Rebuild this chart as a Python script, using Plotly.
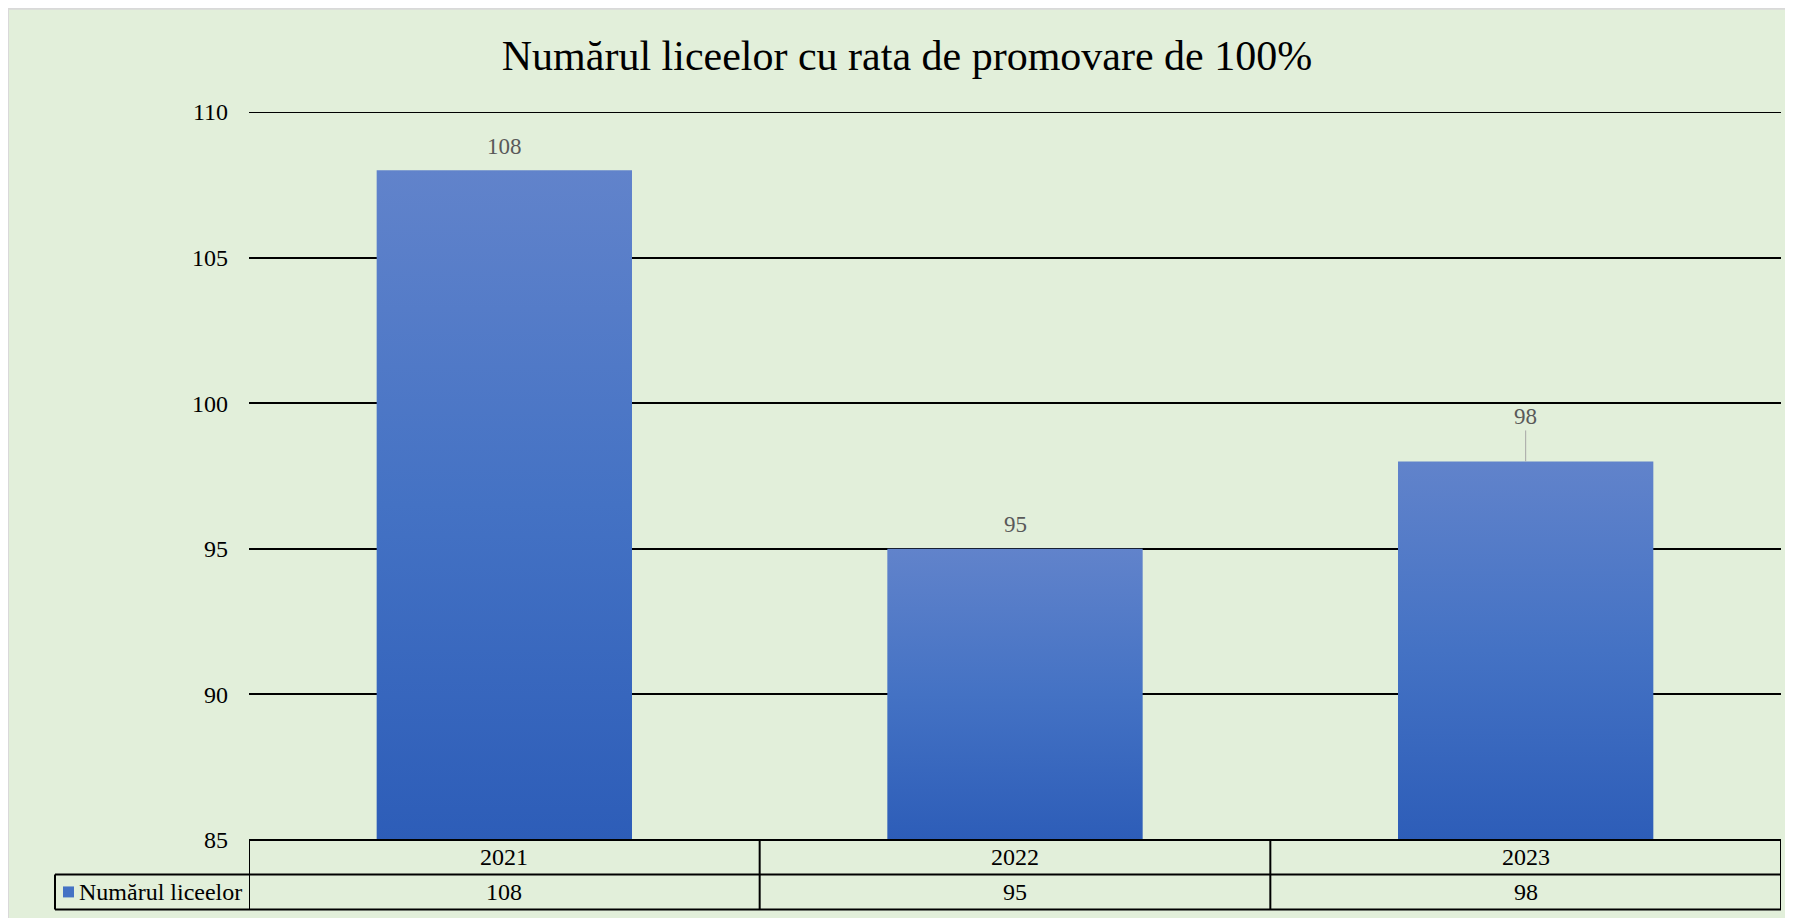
import plotly.graph_objects as go

# data
years = ["2021", "2022", "2023"]
licee = [108, 95, 98]
series_name = "Numărul liceelor"
title = "Numărul liceelor cu rata de promovare de 100%"
y_ticks = [85, 90, 95, 100, 105, 110]

# style
FONT = "Liberation Serif"
BG = "#E2EFDA"
BAR_SCALE = [[0, "#2D5DB8"], [0.5, "#4472C4"], [1, "#6183CB"]]
label_shift = [24, 24, 45]   # px above bar top (last one moved, with leader line)

W, H = 1793, 918
ML, MR, MT, MB = 241, 20, 103.5, 85.5
plot_h = H - MT - MB
plot_w = W - ML - MR


def py(p):
    # pixel row (from top of figure) -> paper y
    return (H - MB - p) / plot_h


def px(p):
    return (p - ML) / plot_w


y0 = y_ticks[0]
half = 0.25  # half bar width in category units
n = len(years)

fig = go.Figure()

# bars drawn as filled shapes so they can carry a vertical gradient
for i, v in enumerate(licee):
    fig.add_trace(go.Scatter(
        x=[i - half, i + half, i + half, i - half, i - half],
        y=[y0, y0, v, v, y0],
        mode="lines", line=dict(width=0),
        fill="toself",
        fillgradient=dict(type="vertical", colorscale=BAR_SCALE),
        hoverinfo="skip", showlegend=False,
    ))

# data labels
for i, v in enumerate(licee):
    if label_shift[i] > 30:
        fig.add_annotation(x=i, y=v, text=str(v), showarrow=True,
                           ax=0, ay=-label_shift[i], arrowhead=0,
                           arrowwidth=1, arrowcolor="#A6A6A6", standoff=0,
                           font=dict(family=FONT, size=23, color="#595959"))
    else:
        fig.add_annotation(x=i, y=v, text=str(v), showarrow=False,
                           yshift=label_shift[i], yanchor="middle",
                           font=dict(family=FONT, size=23, color="#595959"))

# thin grey frame round the chart
fig.add_shape(type="rect", xref="paper", yref="paper",
              x0=px(0), x1=px(W), y0=py(H), y1=py(0),
              line=dict(color="#D9D9D9", width=2), layer="below")

# top gridline sits on the plot edge, draw it explicitly
fig.add_shape(type="line", xref="paper", yref="y", x0=0, x1=1,
              y0=y_ticks[-1], y1=y_ticks[-1], line=dict(color="black", width=2))

# data table under the plot
row1_bot = py(867)
row2_bot = py(902)
left = px(47)
tbl = dict(color="black", width=2)
fig.add_shape(type="line", xref="x", yref="paper", x0=-0.5, x1=n - 0.5, y0=0, y1=0, line=tbl)
fig.add_shape(type="line", xref="paper", yref="paper", x0=left, x1=1, y0=row1_bot, y1=row1_bot, line=tbl)
fig.add_shape(type="line", xref="paper", yref="paper", x0=left, x1=1, y0=row2_bot, y1=row2_bot, line=tbl)
for k in range(n + 1):
    fig.add_shape(type="line", xref="x", yref="paper", x0=k - 0.5, x1=k - 0.5,
                  y0=0, y1=row2_bot, line=tbl)
fig.add_shape(type="line", xref="paper", yref="paper", x0=left, x1=left,
              y0=row1_bot, y1=row2_bot, line=tbl)

mid1 = row1_bot / 2
mid2 = (row1_bot + row2_bot) / 2
for i, (yr, v) in enumerate(zip(years, licee)):
    fig.add_annotation(x=i, y=mid1, yref="paper", yanchor="middle", text=yr,
                       showarrow=False, font=dict(family=FONT, size=24, color="black"))
    fig.add_annotation(x=i, y=mid2, yref="paper", yanchor="middle", text=str(v),
                       showarrow=False, font=dict(family=FONT, size=24, color="black"))

# legend key + series name in the table
fig.add_shape(type="rect", xref="paper", yref="paper",
              x0=px(55), x1=px(66), y0=py(890), y1=py(879),
              fillcolor="#4472C4", line=dict(width=0))
fig.add_annotation(x=px(69), y=mid2, xref="paper", yref="paper",
                   xanchor="left", yanchor="middle", text=series_name, showarrow=False,
                   font=dict(family=FONT, size=24, color="black"))

fig.update_layout(
    width=W, height=H,
    margin=dict(l=ML, r=MR, t=MT, b=MB),
    paper_bgcolor=BG, plot_bgcolor=BG,
    title=dict(text=title, x=899 / W, xanchor="center", y=1 - 47 / H, yanchor="middle",
               font=dict(family=FONT, size=42, color="black")),
    font=dict(family=FONT, size=24, color="black"),
    showlegend=False,
)
fig.update_xaxes(range=[-0.5, n - 0.5], showgrid=False, zeroline=False,
                 showticklabels=False, ticks="", fixedrange=True)
fig.update_yaxes(range=[y_ticks[0], y_ticks[-1]], tickvals=y_ticks,
                 showgrid=True, gridcolor="black", gridwidth=2, zeroline=False,
                 ticks="", ticklabelstandoff=20,
                 tickfont=dict(family=FONT, size=24, color="black"))

fig.write_html("out.html")
